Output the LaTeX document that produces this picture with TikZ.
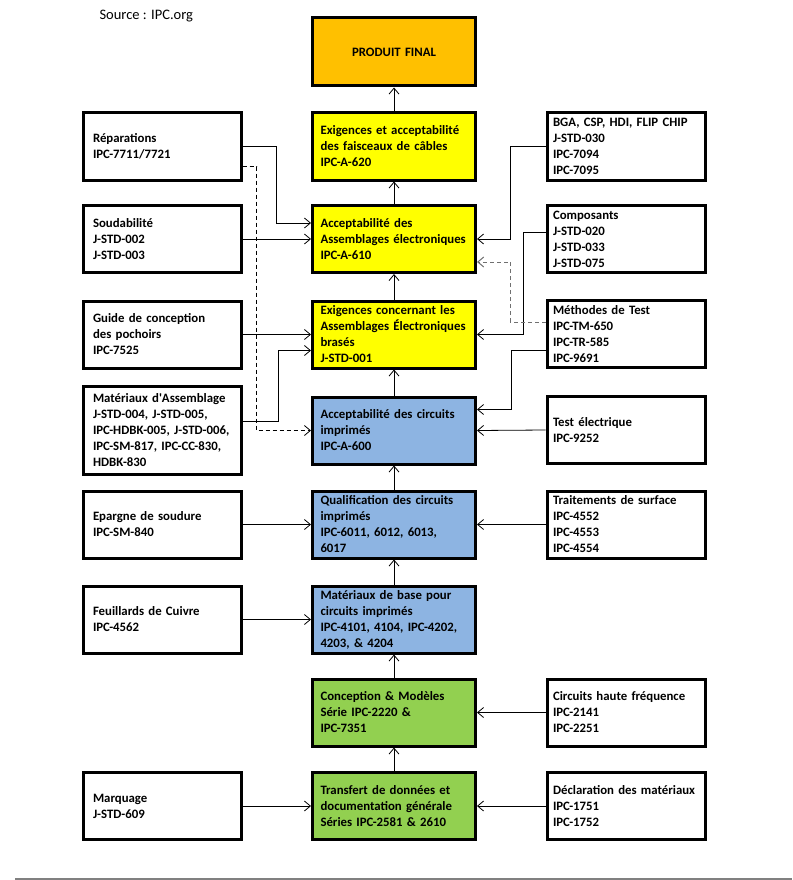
\documentclass[tikz,border=0pt]{standalone}
\usepackage{fontspec}
\setmainfont{Carlito}
\usetikzlibrary{arrows.meta}
\definecolor{prodcol}{HTML}{FFC000}
\definecolor{asmcol}{HTML}{FFFF00}
\definecolor{pcbcol}{HTML}{8DB4E2}
\definecolor{designcol}{HTML}{92D050}
\definecolor{dashcol}{HTML}{707070}
\begin{document}
\begin{tikzpicture}[x=1pt,y=-1pt,
  bx/.style={draw,line width=3pt,align=left,inner ysep=2pt,
    font=\bfseries\fontsize{12.8}{16}\selectfont},
  lbox/.style={bx,text width=138pt,inner xsep=10pt,minimum height=67pt},
  cbox/.style={bx,text width=147pt,inner xsep=8pt,minimum height=67pt},
  rbox/.style={bx,text width=146pt,inner xsep=6pt,minimum height=67pt},
  arr/.style={-{Straight Barb[length=6pt,width=10pt]},line width=0.8pt},
  dsh/.style={arr,dash pattern=on 4pt off 3pt}]
\useasboundingbox (0,0) rectangle (792,880);
\node[anchor=west,font=\fontsize{14.5}{16}\selectfont] (src) at (96,16) {Source : IPC.org};
%center
\node[cbox,fill=prodcol,align=center,minimum height=68pt] (prod) at (394,52) {PRODUIT FINAL};
\node[cbox,fill=asmcol] (faisc) at (394,146.5) {Exigences  et acceptabilité\\des faisceaux  de câbles\\IPC-A-620};
\node[cbox,fill=asmcol] (a610) at (394,239) {Acceptabilité  des\\Assemblages  électroniques\\IPC-A-610};
\node[cbox,fill=asmcol] (jstd) at (394,334.5) {Exigences  concernant les\\Assemblages  Électroniques\\brasés\\J-STD-001};
\node[cbox,fill=pcbcol] (a600) at (394,430.5) {Acceptabilité  des circuits\\imprimés\\IPC-A-600};
\node[cbox,fill=pcbcol] (qual) at (394,524.5) {Qualification  des circuits\\imprimés\\IPC-6011, 6012, 6013,\\6017};
\node[cbox,fill=pcbcol] (base) at (394,619.5) {Matériaux de base pour\\circuits  imprimés\\IPC-4101, 4104, IPC-4202,\\4203, \& 4204};
\node[cbox,fill=designcol] (conc) at (394,712.5) {Conception \& Modèles\\Série IPC-2220 \&\\IPC-7351};
\node[cbox,fill=designcol] (trans) at (394,806) {Transfert de données et\\documentation générale\\Séries IPC-2581 \& 2610};
%left
\node[lbox] (rep) at (162,146.5) {Réparations\\IPC-7711/7721};
\node[lbox] (soud) at (162,239) {Soudabilité\\J-STD-002\\J-STD-003};
\node[lbox] (guide) at (162,334.5) {Guide de conception\\des pochoirs\\IPC-7525};
\node[lbox,minimum height=88pt] (matass) at (162,430) {Matériaux d\textquotesingle Assemblage\\J-STD-004, J-STD-005,\\IPC-HDBK-005, J-STD-006,\\IPC-SM-817, IPC-CC-830,\\HDBK-830};
\node[lbox] (epar) at (162,524.5) {Epargne de soudure\\IPC-SM-840};
\node[lbox] (feuil) at (162,619.5) {Feuillards de Cuivre\\IPC-4562};
\node[lbox] (marq) at (162,806) {Marquage\\J-STD-609};
%right
\node[rbox] (bga) at (626,146.5) {BGA,  CSP, HDI, FLIP CHIP\\J-STD-030\\IPC-7094\\IPC-7095};
\node[rbox] (comp) at (626,239) {Composants\\J-STD-020\\J-STD-033\\J-STD-075};
\node[rbox] (meth) at (626,334) {Méthodes de Test\\IPC-TM-650\\IPC-TR-585\\IPC-9691};
\node[rbox] (test) at (626,430) {Test électrique\\IPC-9252};
\node[rbox] (trait) at (626,524.5) {Traitements de surface\\IPC-4552\\IPC-4553\\IPC-4554};
\node[rbox] (hf) at (626,712.5) {Circuits haute fréquence\\IPC-2141\\IPC-2251};
\node[rbox] (decl) at (626,806) {Déclaration  des matériaux\\IPC-1751\\IPC-1752};
%main chain
\foreach \a/\b in {faisc/prod,a610/faisc,jstd/a610,a600/jstd,qual/a600,base/qual,conc/base,trans/conc}
  {\draw[arr] (\a) -- (\b);}
%left links
\draw[arr] (rep.east) -- ++(34,0) |- ([yshift=16pt]a610.west);
\draw[dsh] ([yshift=-20pt]rep.east) -- ++(14,0) |- (a600.west);
\draw[arr] ([yshift=9pt]matass.east) -- ++(36,0) |- ([yshift=-16pt]jstd.west);
\foreach \a/\b in {soud/a610,guide/jstd,epar/qual,feuil/base,marq/trans}
  {\draw[arr] (\a.east) -- (\b.west);}
%right links
\draw[arr] (bga.west) -- ++(-35,0) |- (a610.east);
\draw[arr] ([yshift=7pt]comp.west) -- ++(-22,0) |- (jstd.east);
\draw[dsh,dashcol,line width=1pt] ([yshift=12pt]meth.west) -- ++(-35,0) |- ([yshift=-23pt]a610.east);
\draw[arr] ([yshift=-16pt]meth.west) -- ++(-34,0) |- ([yshift=21pt]a600.east);
\foreach \a/\b in {test/a600,trait/qual,hf/conc,decl/trans}
  {\draw[arr] (\a.west) -- (\b.east);}
%footer rule
\draw[gray,line width=1.5pt] (15,879) -- (792,879);
\end{tikzpicture}
\end{document}
